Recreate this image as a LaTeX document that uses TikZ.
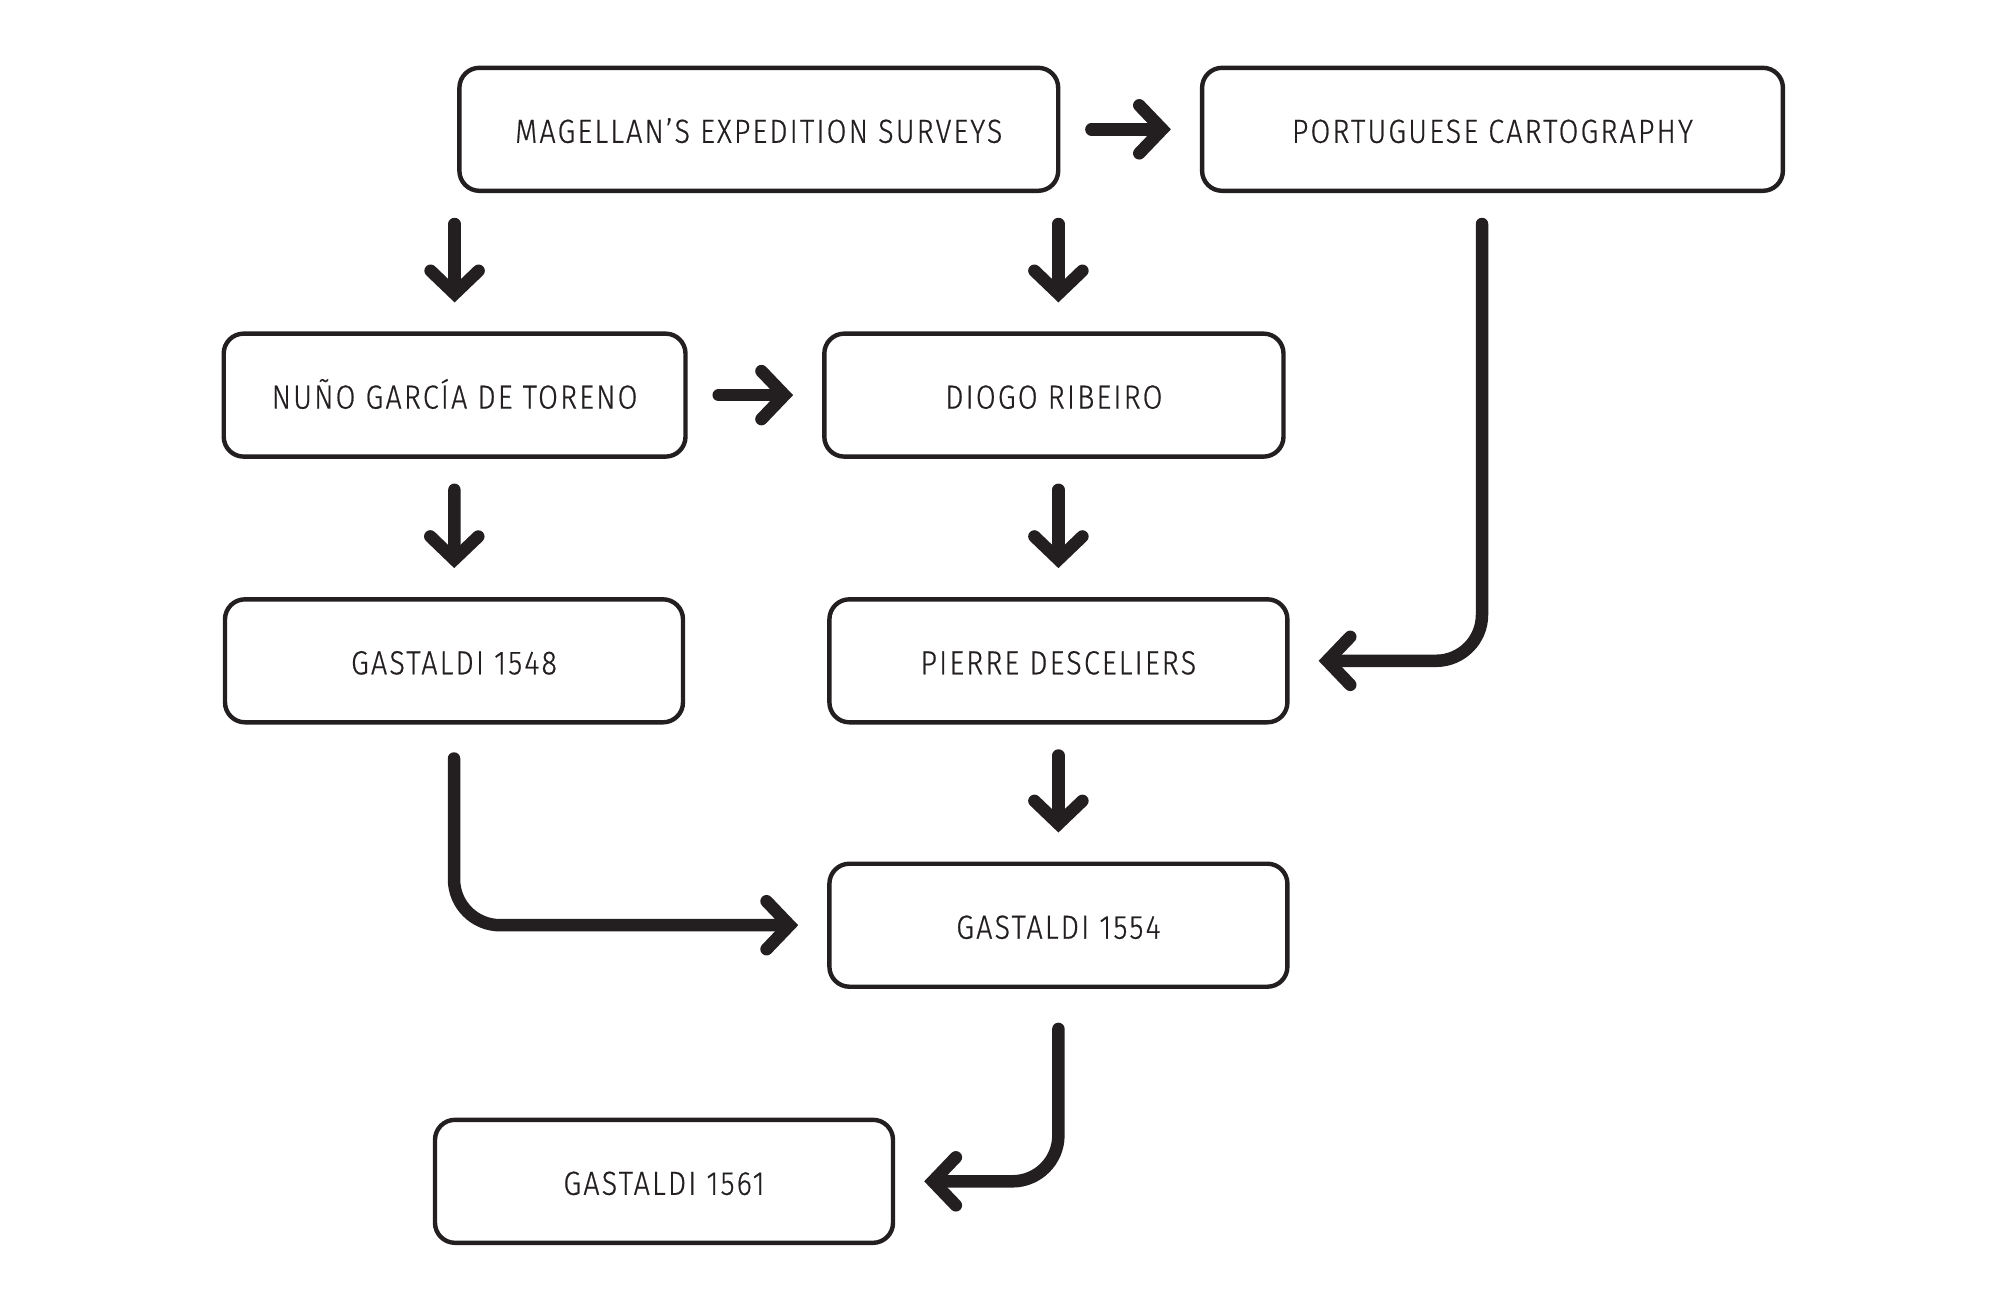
\documentclass[tikz,border=0pt]{standalone}
\usepackage{fontspec}
\setmainfont{Fira Sans Light}[FakeStretch=0.86, LetterSpace=6.5, FakeBold=0.6]
\usetikzlibrary{arrows.meta}
\definecolor{ink}{HTML}{231F20}

\tikzset{
  box/.style={draw=ink, line width=2.2pt, rounded corners=10pt, minimum height=61.5pt, minimum width=229pt, inner sep=0pt, text height=13.5pt, text depth=0pt, text=ink, font=\fontsize{16.7}{20}\selectfont},
  arr/.style={draw=ink, line width=6.25pt, line cap=round, -{Straight Barb[length=11.5pt, width=24pt, line cap=round, line join=miter]}, shorten <=15.5pt, shorten >=14.5pt},
  bentarr/.style={arr, rounded corners=23pt},
}

\begin{document}
\begin{tikzpicture}[x=0.5pt, y=-0.5pt]

	\useasboundingbox (0,0) rectangle (2008,1298);

	% Bokser
	\node [box, minimum width=299.4pt] (mag)  at (758.8,129.3)  {MAGELLAN’S EXPEDITION SURVEYS};
	\node [box, minimum width=290.4pt] (port) at (1492.5,129.3) {PORTUGUESE CARTOGRAPHY};
	\node [box, minimum width=230.9pt] (nuno) at (454.6,395.1)  {NUÑO GARCÍA DE TORENO};
	\node [box, minimum width=229.6pt] (diogo)  at (1053.9,395.1) {DIOGO RIBEIRO};
	\node [box] (gas48)  at (454,660.8)    {GASTALDI 1548};
	\node [box] (pierre) at (1058.4,660.8) {PIERRE DESCELIERS};
	\node [box] (gas54)  at (1058.4,925.2) {GASTALDI 1554};
	\node [box] (gas61)  at (664,1181.3)   {GASTALDI 1561};

	% Piler
	\draw [arr] (mag) -- (port);
	\draw [arr] (mag.south -| nuno) -- (nuno.north);
	\draw [arr] (mag.south -| pierre) -- (diogo.north -| pierre);
	\draw [arr] (nuno) -- (diogo);
	\draw [arr] (nuno) -- (gas48);
	\draw [arr] (diogo.south -| pierre) -- (pierre.north);
	\draw [arr] (pierre) -- (gas54);

	% Bøyde piler
	\draw [bentarr] ([xshift=-5.25pt]port.south) |- (pierre.east);
	\draw [bentarr, shorten <=17pt] (gas48.south) |- (gas54.west);
	\draw [bentarr, shorten <=20pt] (gas54.south) |- (gas61.east);

\end{tikzpicture}
\end{document}
